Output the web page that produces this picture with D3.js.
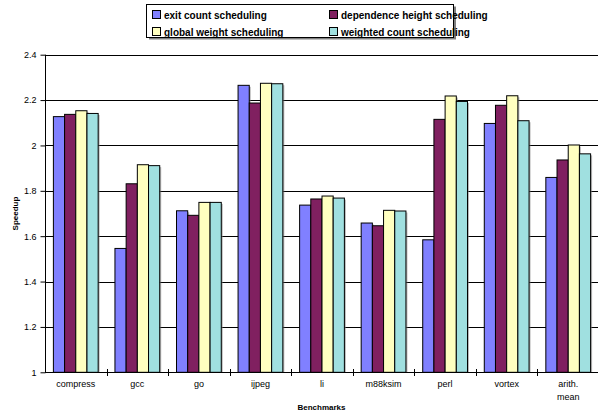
<!DOCTYPE html>
<html>
<head>
<meta charset="utf-8">
<script src="https://cdn.jsdelivr.net/npm/d3@7"></script>
<style>
  html, body { margin: 0; padding: 0; background: #fff; }
  svg { display: block; font-family: "Liberation Sans", Arial, sans-serif; }
</style>
</head>
<body>
<svg id="chart" width="598" height="419"></svg>
<script>
// Benchmarks on the x axis
const categories = ["compress", "gcc", "go", "ijpeg", "li", "m88ksim", "perl", "vortex", "arith. mean"];

// Scheduling strategies (one series each)
const seriesNames = [
  "exit count scheduling",
  "dependence height scheduling",
  "global weight scheduling",
  "weighted count scheduling"
];

const exitCount       = [2.127, 1.546, 1.712, 2.265, 1.737, 1.658, 1.584, 2.097, 1.859];
const dependHeight    = [2.137, 1.831, 1.692, 2.187, 1.764, 1.646, 2.115, 2.177, 1.936];
const globalWeight    = [2.153, 1.915, 1.749, 2.274, 1.777, 1.714, 2.218, 2.219, 2.002];
const weightedCount   = [2.141, 1.911, 1.749, 2.272, 1.768, 1.711, 2.194, 2.109, 1.963];

const yTicks = [1, 1.2, 1.4, 1.6, 1.8, 2, 2.2, 2.4];

const seriesValues = [exitCount, dependHeight, globalWeight, weightedCount];
const colors = ["#8080ff", "#802060", "#ffffc0", "#a0e0e0"];
const FONT = "'Liberation Sans', Arial, sans-serif";

const svg = d3.select("#chart");

const plot = { left: 45, right: 599, top: 54.7, bottom: 372.3 };

const x = d3.scaleBand()
  .domain(categories)
  .range([plot.left, plot.right])
  .paddingInner(0)
  .paddingOuter(0);

const xInner = d3.scaleBand()
  .domain(d3.range(seriesNames.length))
  .range([0, x.bandwidth()])
  .paddingOuter(0.75);

const y = d3.scaleLinear()
  .domain([1, 2.4])
  .range([plot.bottom, plot.top]);

// horizontal gridlines
svg.append("g")
  .selectAll("line")
  .data(yTicks.filter(d => d > 1))
  .join("line")
  .attr("x1", plot.left)
  .attr("x2", 598)
  .attr("y1", d => Math.round(y(d)) + 0.5)
  .attr("y2", d => Math.round(y(d)) + 0.5)
  .attr("stroke", "#000")
  .attr("stroke-width", 1);

// bars
const rows = [];
categories.forEach((c, ci) => {
  seriesValues.forEach((vals, si) => rows.push({ c, si, v: vals[ci] }));
});

const barG = svg.append("g");
// soft shadow to the right of each bar
barG.selectAll("rect.shadow")
  .data(rows)
  .join("rect")
  .attr("class", "shadow")
  .attr("x", d => x(d.c) + xInner(d.si) + 1.5)
  .attr("y", d => y(d.v) + 1.5)
  .attr("width", xInner.bandwidth())
  .attr("height", d => y(1) - y(d.v) - 1.5)
  .attr("fill", "#808080")
  .attr("opacity", 0.55);

barG.selectAll("rect.bar")
  .data(rows)
  .join("rect")
  .attr("class", "bar")
  .attr("x", d => x(d.c) + xInner(d.si))
  .attr("y", d => y(d.v))
  .attr("width", xInner.bandwidth())
  .attr("height", d => y(1) - y(d.v))
  .attr("fill", d => colors[d.si])
  .attr("stroke", "#000")
  .attr("stroke-width", 1);

// y axis
const yAxis = d3.axisLeft(y)
  .tickValues(yTicks)
  .tickFormat(d => d3.format("")(+d.toFixed(1)))
  .tickSize(5)
  .tickPadding(4);

const yg = svg.append("g")
  .attr("transform", `translate(${plot.left + 0.5},0)`)
  .call(yAxis);
yg.attr("font-family", FONT);
yg.select(".domain").attr("stroke", "#000").attr("d", `M0,${plot.top}V${plot.bottom}`);
yg.selectAll(".tick line").attr("stroke", "#000");
yg.selectAll(".tick text").attr("font-size", 9).attr("fill", "#000");

// x axis line with tick marks between categories
svg.append("line")
  .attr("x1", plot.left).attr("x2", 598)
  .attr("y1", Math.round(y(1)) + 0.5).attr("y2", Math.round(y(1)) + 0.5)
  .attr("stroke", "#000");

svg.append("g")
  .selectAll("line")
  .data(categories.slice(1))
  .join("line")
  .attr("x1", d => Math.round(x(d)) + 0.5)
  .attr("x2", d => Math.round(x(d)) + 0.5)
  .attr("y1", Math.round(y(1)) - 3)
  .attr("y2", Math.round(y(1)) + 4)
  .attr("stroke", "#000");

// category labels
const xl = svg.append("g")
  .attr("font-family", FONT)
  .selectAll("text")
  .data(categories)
  .join("text")
  .attr("x", d => x(d) + x.bandwidth() / 2)
  .attr("y", 387)
  .attr("text-anchor", "middle")
  .attr("font-size", 9)
  .attr("fill", "#000");
xl.each(function(d) {
  const words = d === "arith. mean" ? ["arith.", "mean"] : [d];
  d3.select(this).selectAll("tspan")
    .data(words)
    .join("tspan")
    .attr("x", x(d) + x.bandwidth() / 2)
    .attr("dy", (w, i) => i === 0 ? 0 : 13)
    .text(w => w);
});

// axis titles
svg.append("text")
  .attr("x", (plot.left + 598) / 2)
  .attr("y", 410)
  .attr("text-anchor", "middle")
  .attr("font-family", FONT)
  .attr("font-size", 8)
  .attr("font-weight", "bold")
  .text("Benchmarks");

svg.append("text")
  .attr("transform", `translate(18,${(plot.top + plot.bottom) / 2}) rotate(-90)`)
  .attr("text-anchor", "middle")
  .attr("font-family", FONT)
  .attr("font-size", 8)
  .attr("font-weight", "bold")
  .text("Speedup");

// legend
const legend = svg.append("g").attr("font-family", FONT);
legend.append("rect")
  .attr("x", 149).attr("y", 6.5)
  .attr("width", 307).attr("height", 33)
  .attr("fill", "#808080");
legend.append("rect")
  .attr("x", 146.5).attr("y", 4.5)
  .attr("width", 307).attr("height", 33)
  .attr("fill", "#fff")
  .attr("stroke", "#000");

const legendPos = [[152, 15], [329, 15], [152, 32], [329, 32]];
const entries = legend.selectAll("g.entry")
  .data(seriesNames)
  .join("g")
  .attr("class", "entry")
  .attr("transform", (d, i) => `translate(${legendPos[i][0]},${legendPos[i][1]})`);
entries.append("rect")
  .attr("x", 0.5).attr("y", -4.5)
  .attr("width", 8).attr("height", 8)
  .attr("fill", (d, i) => colors[i])
  .attr("stroke", "#000");
entries.append("text")
  .attr("x", 12)
  .attr("y", 4)
  .attr("font-size", 10)
  .attr("font-weight", "bold")
  .text(d => d);
</script>
</body>
</html>
